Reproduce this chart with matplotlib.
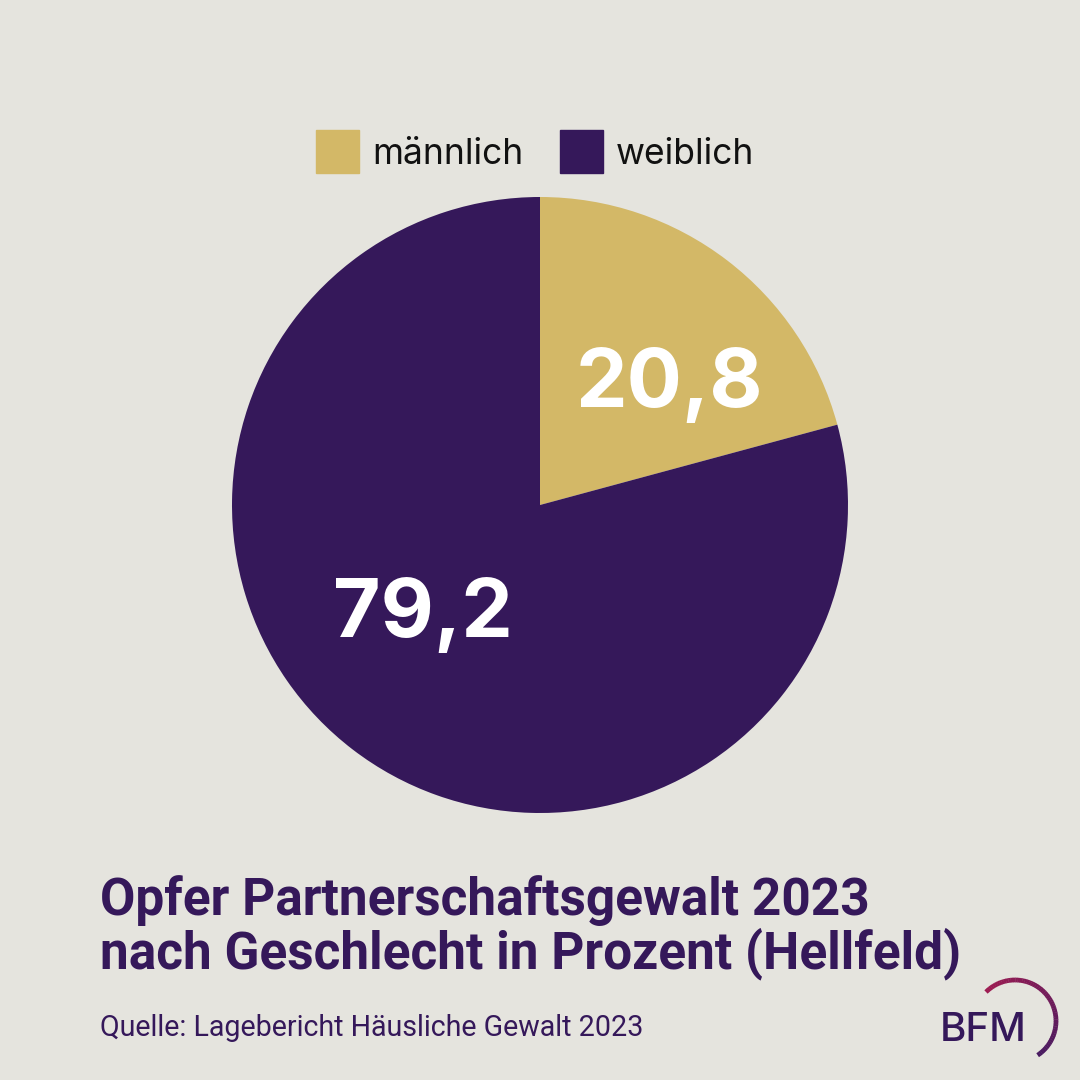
import matplotlib.pyplot as plt
import matplotlib.patches as mpatches
import numpy as np

# data
labels = ["männlich", "weiblich"]
values = [20.8, 79.2]
value_text = ["20,8", "79,2"]
colors = ["#D3B867", "#35185A"]

bg = "#E5E4DE"
purple = "#35185A"

fig = plt.figure(figsize=(10.8, 10.8), dpi=100, facecolor=bg)

# pie axes (circle radius ~308px, centre at 540,505)
ax = fig.add_axes([232 / 1080, (1080 - 813) / 1080, 616 / 1080, 616 / 1080])
ax.set_facecolor(bg)
wedges, _ = ax.pie(values, colors=colors, startangle=90, counterclock=False,
                   radius=1.0, wedgeprops=dict(linewidth=0))
ax.set_xlim(-1, 1)
ax.set_ylim(-1, 1)
ax.set_aspect("equal")
ax.axis("off")

# value labels inside slices
label_pos = [(0.42, 0.385), (-0.38, -0.36)]
for (x, y), t in zip(label_pos, value_text):
    ax.text(x, y, t, ha="center", va="center", color="white",
            fontsize=59, fontweight="bold", family="Inter")

# legend on top
fig.patches.append(mpatches.Rectangle((316 / 1080, 1 - 173 / 1080), 43 / 1080, 43 / 1080,
                                      transform=fig.transFigure, color=colors[0]))
fig.text(372 / 1080, 1 - 155 / 1080, labels[0], fontsize=25.5, color="#111111",
         va="center", ha="left", family="Inter")
fig.patches.append(mpatches.Rectangle((560 / 1080, 1 - 173 / 1080), 43 / 1080, 43 / 1080,
                                      transform=fig.transFigure, color=colors[1]))
fig.text(616 / 1080, 1 - 155 / 1080, labels[1], fontsize=25.5, color="#111111",
         va="center", ha="left", family="Inter")

# title + source
fig.text(100 / 1080, 1 - 915 / 1080,
         "Opfer Partnerschaftsgewalt 2023", fontsize=37, fontweight="bold",
         color=purple, ha="left", va="baseline", family="Roboto")
fig.text(100 / 1080, 1 - 968 / 1080,
         "nach Geschlecht in Prozent (Hellfeld)", fontsize=37, fontweight="bold",
         color=purple, ha="left", va="baseline", family="Roboto")
fig.text(100 / 1080, 1 - 1036 / 1080,
         "Quelle: Lagebericht Häusliche Gewalt 2023", fontsize=20.6,
         color=purple, ha="left", va="baseline", family="Roboto")

# BFM logo
fig.text(983 / 1080, 1 - 1041 / 1080, "BFM", fontsize=29, color=purple,
         ha="center", va="baseline", family="Inter", fontweight="medium")
lax = fig.add_axes([0, 0, 1, 1], facecolor="none")
lax.set_xlim(0, 1080)
lax.set_ylim(1080, 0)
lax.axis("off")
cx, cy, r = 1015, 1021, 41
c0 = np.array([0x9E, 0x1C, 0x52]) / 255
c1 = np.array([0x48, 0x1A, 0x60]) / 255
angs = np.linspace(-135, 56, 60)
for i in range(len(angs) - 1):
    a = np.radians(np.linspace(angs[i], angs[i + 1] + 0.5, 5))
    f = i / (len(angs) - 2)
    col = c0 * (1 - f) + c1 * f
    lax.plot(cx + r * np.cos(a), cy + r * np.sin(a), color=col, lw=3.4,
             solid_capstyle="butt")

fig.savefig("out.png", dpi=100, facecolor=bg)
